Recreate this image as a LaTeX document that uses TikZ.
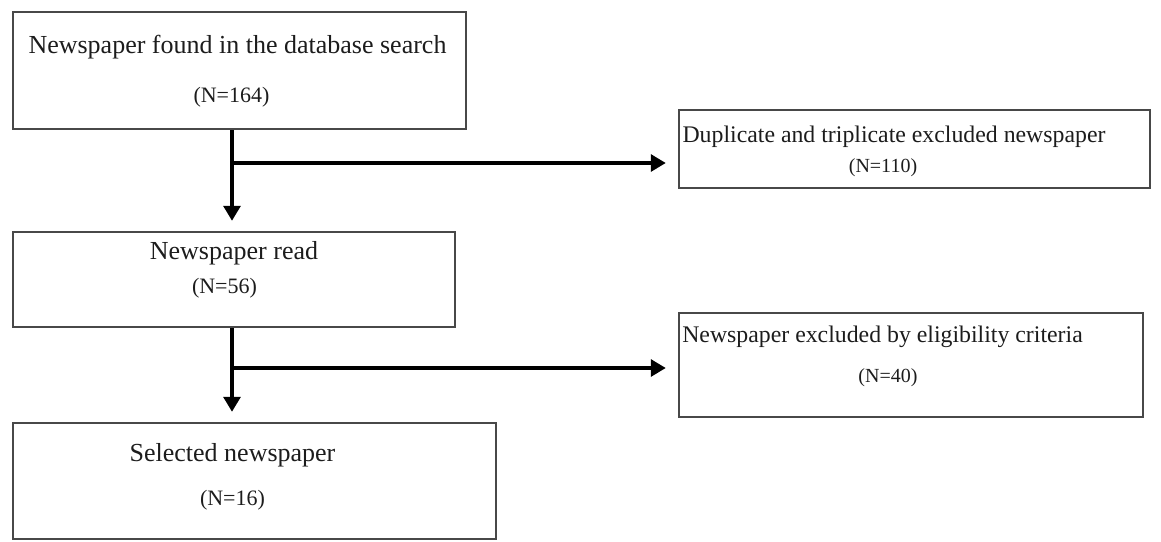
\documentclass[tikz,border=0pt]{standalone}
\usepackage{fontspec}
\setmainfont{Liberation Serif}
\usetikzlibrary{arrows.meta,positioning,calc}
\definecolor{ink}{HTML}{1C1C1C}
\definecolor{frame}{HTML}{484848}
\tikzset{
  box/.style={draw=frame,line width=1.25pt,inner sep=0pt},
  head/.style={text=ink,inner sep=0pt,font=\fontsize{13}{15}\selectfont},
  headside/.style={text=ink,inner sep=0pt,font=\fontsize{11.9}{14}\selectfont},
  count/.style={text=ink,inner sep=0pt,font=\fontsize{11}{13}\selectfont},
  countside/.style={text=ink,inner sep=0pt,font=\fontsize{10}{12}\selectfont},
  arr/.style={-{Triangle[length=7.5pt,width=8.5pt]},line width=1.6pt,draw=black},
}

\begin{document}
\begin{tikzpicture}[x=0.5pt,y=-0.5pt]
        \useasboundingbox (0,0) rectangle (1161,541);

        % boxes
        \node[box,minimum width=226.5pt,minimum height=58.5pt] (found) at (239.5,70.5) {};
        \node[box,minimum width=235.5pt,minimum height=39pt]   (dup)   at (914.5,149) {};
        \node[box,minimum width=221pt,minimum height=47.5pt]   (read)  at (234,279.5) {};
        \node[box,minimum width=232pt,minimum height=52pt]     (elig)  at (911,365) {};
        \node[box,minimum width=241.5pt,minimum height=58pt]   (sel)   at (254.5,481) {};

        % texts
        \node[head]      (found-t) at (237.5,47)  {Newspaper found in the database search};
        \node[count]     (found-n) at (231.5,97)  {(N=164)};
        \node[headside]  (dup-t)   at (894,137)   {Duplicate and triplicate excluded newspaper};
        \node[countside] (dup-n)   at (883,168)   {(N=110)};
        \node[head]      (read-t)  at (234,253)   {Newspaper read};
        \node[count]     (read-n)  at (224.5,288) {(N=56)};
        \node[headside]  (elig-t)  at (882.5,337) {Newspaper excluded by eligibility criteria};
        \node[countside] (elig-n)  at (888,378)   {(N=40)};
        \node[head]      (sel-t)   at (232.5,455) {Selected newspaper};
        \node[count]     (sel-n)   at (232.5,500) {(N=16)};

        % junctions
        \coordinate (j1) at (232,163);
        \coordinate (j2) at (232,368);

        \draw[arr] (found.south -| j1) -- ([yshift=5pt]read.north -| j1);
        \draw[arr] (j1) -- ([xshift=-6pt]dup.west |- j1);
        \draw[arr] (read.south -| j2) -- ([yshift=5pt]sel.north -| j2);
        \draw[arr] (j2) -- ([xshift=-6pt]elig.west |- j2);
      \end{tikzpicture}
\end{document}
